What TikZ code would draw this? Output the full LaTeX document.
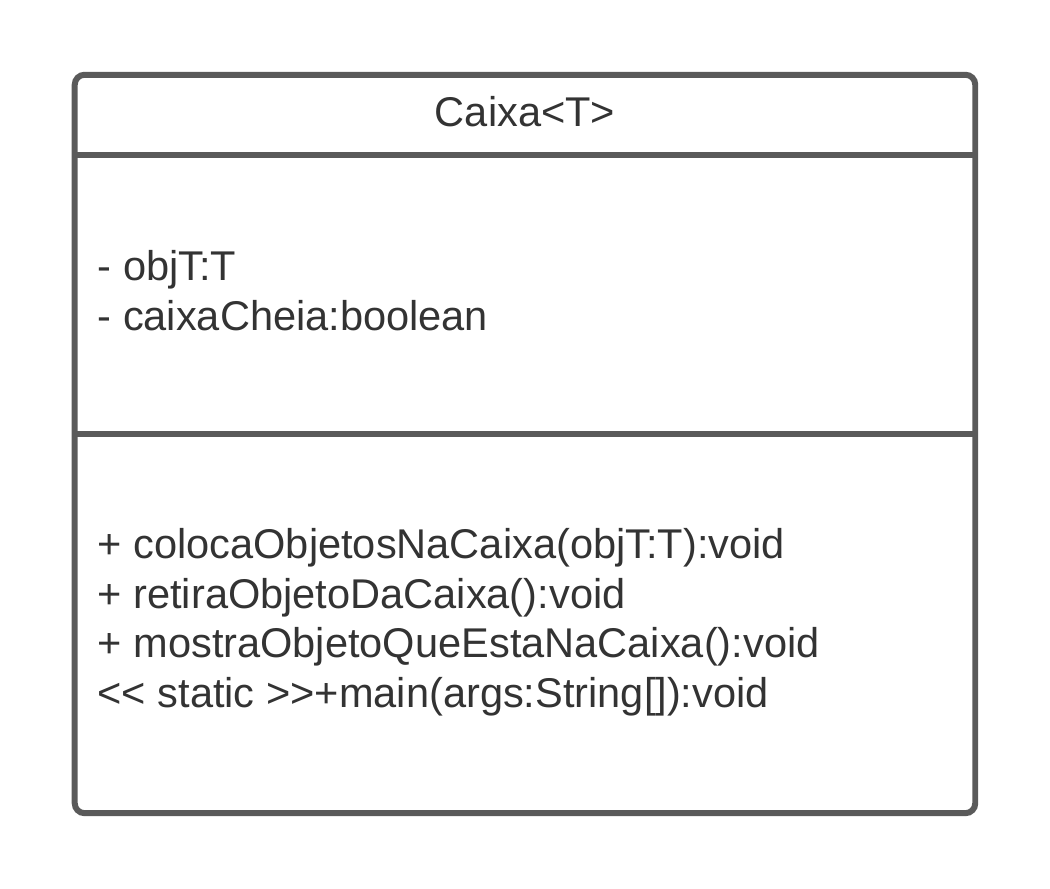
\documentclass[tikz,border=0pt]{standalone}
\usepackage{fontspec}
\setmainfont{Liberation Sans}
\definecolor{umlline}{HTML}{5A5A5A}
\definecolor{umltext}{HTML}{333333}
\tikzset{
  classbox/.style={draw=umlline,line width=1.7pt,rounded corners=2.8pt,
    minimum width=9cm,minimum height=7.38cm,inner sep=0pt},
  divider/.style={draw=umlline,line width=1.7pt},
  member/.style={anchor=base west,inner sep=0pt,text=umltext,
    font=\fontsize{11.82pt}{14pt}\selectfont}
}
\begin{document}
\begin{tikzpicture}[x=0.01cm,y=-0.01cm]
    \useasboundingbox (0,0) rectangle (1050,889);

    % class box and compartments
    \node[classbox] (caixa) at (525,444) {};
    \coordinate (nomeL) at (75,155);
    \coordinate (nomeR) at (975,155);
    \coordinate (atribL) at (75,434);
    \coordinate (atribR) at (975,434);
    \draw[divider] (nomeL) -- (nomeR);
    \draw[divider] (atribL) -- (atribR);

    % name
    \node[member,anchor=base] (titulo) at (525,126.5) {Caixa<T>};

    % attributes
    \node[member] (objT) at (97,281) {- objT:T};
    \node[member] (cheia) at (97,331) {- caixaCheia:boolean};

    % operations
    \node[member] (coloca) at (97,559) {+ colocaObjetosNaCaixa(objT:T):void};
    \node[member] (retira) at (97,608.5) {+ retiraObjetoDaCaixa():void};
    \node[member] (mostra) at (97,658) {+ mostraObjetoQueEstaNaCaixa():void};
    \node[member] (main) at (97,707.5) {<{}< static >{}>+main(args:String[]):void};
  \end{tikzpicture}
\end{document}
